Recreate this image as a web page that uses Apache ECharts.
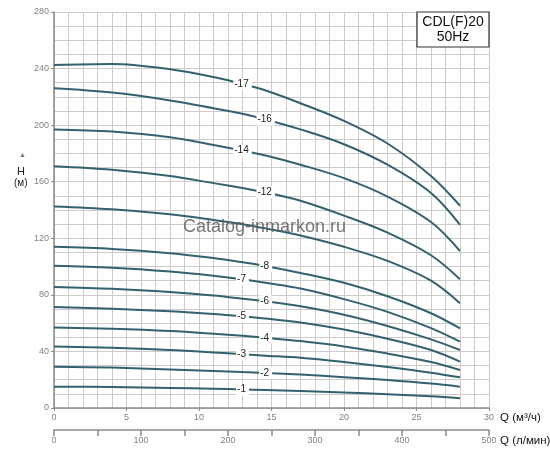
<!DOCTYPE html>
<html>
<head>
<meta charset="utf-8">
<script src="https://cdn.jsdelivr.net/npm/echarts@6/dist/echarts.min.js"></script>
<style>
  html, body { margin: 0; padding: 0; background: #fff; }
  #chart { width: 550px; height: 450px; }
</style>
</head>
<body>
<div id="chart"></div>
<script>
const flow = [0, 4, 8, 11, 13, 14.6, 17, 20, 23, 26, 28]

const h17 = [242.5, 243.2, 239.5, 234, 229, 224.5, 215.5, 203, 187, 164, 143]
const h16 = [226, 223, 217.5, 212, 208, 204, 197, 186.5, 172, 152, 129.5]
const h14 = [197, 195.5, 191.5, 186, 182, 178.5, 172, 162.5, 149.5, 131.5, 111]
const h12 = [171, 168.5, 164, 159, 155.5, 152.5, 146.5, 136, 124, 108, 91]
const h10 = [142.5, 140.5, 137, 133, 130, 127, 122, 114, 104, 90, 74]
const h8 = [114, 112.5, 109.5, 106, 103, 100.3, 95.5, 88.5, 79, 67, 56.3]
const h7 = [100.6, 99.2, 96.5, 93.5, 91, 88.5, 84.5, 77, 68, 56.5, 46.9]
const h6 = [85.6, 84.3, 82, 79.5, 77.3, 75.5, 72, 66, 58, 48.5, 41]
const h5 = [71.4, 70.2, 68.4, 66.5, 64.8, 63.3, 60.5, 55.5, 49, 41, 32.8]
const h4 = [57, 56, 54.4, 52.5, 51, 49.6, 47.3, 43.5, 38.5, 32.5, 26.9]
const h3 = [43.5, 42.6, 41, 39.3, 38, 37, 35.5, 32.5, 29, 25, 21.7]
const h2 = [29.2, 28.6, 27.3, 26.2, 25.4, 24.8, 23.6, 21.8, 19.8, 17.3, 15.1]
const h1 = [15.1, 14.8, 14.2, 13.6, 13.1, 12.7, 12, 11, 9.8, 8.3, 6.9]

const curves = [
    { name: '17', head: h17, labelAt: 4 },
    { name: '16', head: h16, labelAt: 5 },
    { name: '14', head: h14, labelAt: 4 },
    { name: '12', head: h12, labelAt: 5 },
    { name: '10', head: h10, labelAt: -1 },
    { name: '8', head: h8, labelAt: 5 },
    { name: '7', head: h7, labelAt: 4 },
    { name: '6', head: h6, labelAt: 5 },
    { name: '5', head: h5, labelAt: 4 },
    { name: '4', head: h4, labelAt: 5 },
    { name: '3', head: h3, labelAt: 4 },
    { name: '2', head: h2, labelAt: 5 },
    { name: '1', head: h1, labelAt: 4 },
]

const lineColor = '#33626e'
const gridColor = '#cccccc'
const axisColor = '#8a8a8a'
const labelGrey = '#808080'
const font = 'Liberation Sans, Arial, sans-serif'

const seriesArr = curves.map(c => {
    return {
        name: c.name,
        type: 'line',
        smooth: 0.35,
        symbol: 'circle',
        symbolSize: 0,
        showSymbol: true,
        lineStyle: { color: lineColor, width: 2 },
        itemStyle: { color: lineColor },
        data: flow.map((q, i) => {
            const item = { value: [q, c.head[i]] }
            if (i === c.labelAt) {
                item.label = {
                    show: true,
                    position: 'inside',
                    formatter: '-' + c.name,
                    color: '#222',
                    fontSize: 10,
                    fontFamily: font,
                    backgroundColor: '#fff',
                    padding: [1, 3, 1, 1]
                }
            }
            return item
        }),
        z: 3
    }
})

const chartInstance = echarts.init(document.getElementById('chart'))
const opt = {
    animation: false,
    textStyle: { fontFamily: font },
    grid: {
        left: 54,
        right: 61,
        top: 12,
        bottom: 42,
        containLabel: false
    },
    xAxis: [
        {
            type: 'value',
            min: 0,
            max: 30,
            interval: 5,
            axisLine: { show: true, lineStyle: { color: axisColor, width: 1.5 } },
            axisTick: { show: true, length: 3, lineStyle: { color: axisColor } },
            axisLabel: { color: labelGrey, fontSize: 9, margin: 5 },
            splitLine: { show: true, lineStyle: { color: gridColor, width: 1 } },
            minorTick: { show: false, splitNumber: 5 },
            minorSplitLine: { show: true, lineStyle: { color: gridColor, width: 1 } }
        },
        {
            type: 'value',
            position: 'bottom',
            offset: 22,
            min: 0,
            max: 500,
            interval: 50,
            axisLine: { show: true, lineStyle: { color: axisColor, width: 1.5 } },
            axisTick: { show: true, length: 6, lineStyle: { color: axisColor, width: 1.5 } },
            axisLabel: {
                color: labelGrey,
                fontSize: 9,
                margin: 6,
                formatter: v => (v % 100 === 0 ? String(v) : '')
            },
            splitLine: { show: false }
        }
    ],
    yAxis: {
        type: 'value',
        min: 0,
        max: 280,
        interval: 40,
        axisLine: { show: true, lineStyle: { color: axisColor, width: 1.5 } },
        axisTick: { show: true, length: 3, lineStyle: { color: axisColor } },
        axisLabel: { color: labelGrey, fontSize: 9, margin: 5 },
        splitLine: { show: true, lineStyle: { color: gridColor, width: 1 } },
        minorTick: { show: false, splitNumber: 4 },
        minorSplitLine: { show: true, lineStyle: { color: gridColor, width: 1 } }
    },
    graphic: [
        // model box top right
        {
            type: 'rect', x: 417, y: 12, z: 10,
            shape: { width: 72, height: 35 },
            style: { fill: '#fff', stroke: '#333', lineWidth: 1.2 }
        },
        {
            type: 'text', x: 453, y: 15, z: 11,
            style: { text: 'CDL(F)20\n50Hz', fill: '#111', fontSize: 14, lineHeight: 15, align: 'center', verticalAlign: 'top', fontFamily: font }
        },
        // H axis name
        {
            type: 'text', left: 19, top: 152, z: 10,
            style: { text: '▲', fill: '#777', fontSize: 7 }
        },
        {
            type: 'text', left: 17, top: 166, z: 10,
            style: { text: 'H', fill: '#222', fontSize: 11 }
        },
        {
            type: 'text', left: 14, top: 178, z: 10,
            style: { text: '(м)', fill: '#222', fontSize: 10 }
        },
        // Q axis names
        {
            type: 'text', left: 500, top: 412, z: 10,
            style: { text: 'Q (м³/ч)', fill: '#111', fontSize: 11.5 }
        },
        {
            type: 'text', left: 500, top: 435, z: 10,
            style: { text: 'Q (л/мин)', fill: '#111', fontSize: 11.5 }
        },
        // watermark
        {
            type: 'text', left: 183, top: 218, z: 20,
            style: { text: 'Catalog-inmarkon.ru', fill: 'rgba(95,95,95,0.85)', fontSize: 18 }
        }
    ],
    series: seriesArr
}
chartInstance.setOption(opt)
</script>
</body>
</html>
